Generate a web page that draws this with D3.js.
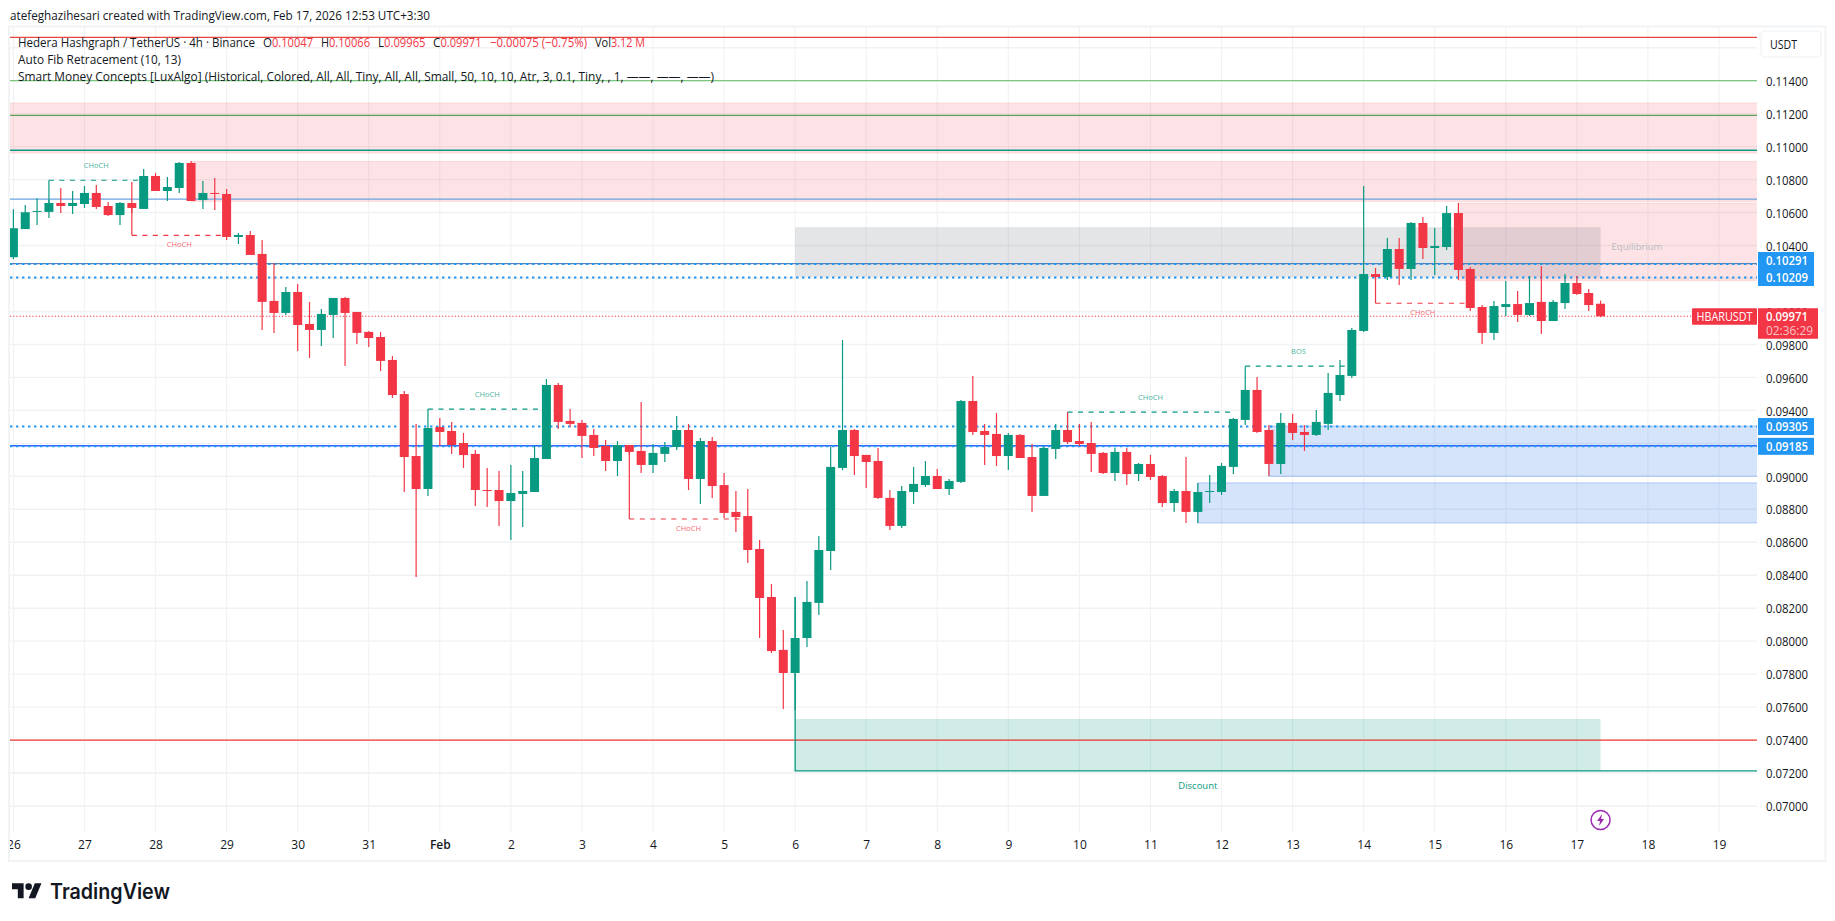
<!DOCTYPE html>
<html>
<head>
<meta charset="utf-8">
<script src="https://cdn.jsdelivr.net/npm/d3@7"></script>
<style>
    html, body { margin: 0; background: #fff; }
    svg { display: block; }
    text { font-family: "Open Sans", Roboto, sans-serif; fill: #131722; }
</style>
</head>
<body>
<svg id="canvas" width="1835" height="921"></svg>
<script>
// 4h candles, first one is Jan 26 00:00
const opens = [.10329,.10500,.10604,.10604,.10658,.10640,.10652,.10719,.10640,.10585,.10658,.10622,.10822,.10731,.10749,.10901,.10676,.10719,.10713,.10452,
.10464,.10349,.10064,.09991,.10118,.09924,.09888,.09979,.10082,.09997,.09876,.09845,.09706,.09499,.09123,.08923,.09299,.09275,.09202,.09136,
.08917,.08917,.08850,.08893,.08905,.09105,.09554,.09336,.09324,.09251,.09184,.09093,.09190,.09154,.09069,.09136,.09178,.09281,.08984,.09214,
.08947,.08784,.08759,.08559,.08268,.07947,.07807,.08019,.08232,.08547,.09051,.09281,.09130,.09093,.08869,.08699,.08905,.08947,.09002,.08923,
.08966,.09457,.09275,.09257,.09123,.09251,.09117,.08881,.09166,.09281,.09214,.09202,.09142,.09020,.09148,.09014,.09075,.09002,.08838,.08911,
.08784,.08905,.08905,.09057,.09342,.09524,.09281,.09075,.09324,.09269,.09251,.09318,.09493,.09609,.09882,.10227,.10209,.10379,.10258,.10537,
.10385,.10391,.10597,.10258,.10027,.09870,.10027,.10045,.09979,.10058,.09942,.10051,.10173,.10112,.10047];
const highs = [.10620,.10646,.10687,.10676,.10749,.10731,.10761,.10767,.10664,.10664,.10786,.10864,.10840,.10816,.10907,.10913,.10792,.10810,.10743,.10476,
.10488,.10434,.10294,.10149,.10167,.10058,.10015,.10082,.10088,.09997,.09882,.09876,.09730,.09518,.09318,.09293,.09354,.09330,.09263,.09160,
.09051,.09032,.09069,.09032,.09184,.09590,.09566,.09408,.09342,.09287,.09220,.09214,.09190,.09451,.09196,.09208,.09366,.09318,.09233,.09239,
.09020,.08911,.08923,.08614,.08347,.08068,.08268,.08365,.08638,.09178,.09827,.09287,.09130,.09172,.08917,.08941,.09057,.09093,.09045,.08984,
.09463,.09609,.09318,.09384,.09263,.09257,.09196,.09184,.09318,.09390,.09318,.09330,.09148,.09172,.09172,.09081,.09130,.09008,.08923,.09117,
.08960,.09008,.09081,.09354,.09524,.09603,.09311,.09384,.09378,.09311,.09402,.09627,.09706,.09900,.10761,.10264,.10446,.10446,.10543,.10573,
.10507,.10640,.10658,.10270,.10039,.10064,.10185,.10124,.10215,.10276,.10070,.10227,.10215,.10136,.10066];
const lows = [.10317,.10500,.10525,.10567,.10597,.10591,.10628,.10622,.10579,.10525,.10597,.10622,.10731,.10670,.10719,.10670,.10622,.10616,.10434,.10409,
.10343,.09888,.09870,.09979,.09760,.09718,.09791,.09839,.09669,.09803,.09785,.09639,.09475,.08905,.08389,.08881,.09184,.09136,.09051,.08820,
.08814,.08699,.08614,.08693,.08905,.09105,.09287,.09299,.09111,.09123,.09032,.09002,.09130,.09020,.09020,.09087,.09160,.08917,.08832,.08869,
.08747,.08662,.08474,.08019,.07928,.07589,.07583,.07965,.08159,.08432,.09038,.09008,.08929,.08863,.08675,.08687,.08832,.08935,.08923,.08887,
.08960,.09251,.09069,.09063,.09038,.09111,.08784,.08881,.09105,.09196,.09184,.09026,.09014,.08972,.08947,.08972,.08978,.08814,.08784,.08717,
.08717,.08838,.08887,.09014,.09311,.09263,.09002,.09014,.09220,.09154,.09245,.09281,.09457,.09597,.09876,.10191,.10191,.10161,.10191,.10318,
.10221,.10373,.10191,.10003,.09803,.09827,.09973,.09936,.09973,.09864,.09942,.10015,.10100,.10003,.09965];
const closes = [.10505,.10602,.10610,.10658,.10640,.10658,.10719,.10634,.10585,.10658,.10628,.10822,.10731,.10755,.10901,.10670,.10719,.10713,.10452,.10464,
.10343,.10058,.09991,.10118,.09918,.09888,.09985,.10082,.09991,.09870,.09839,.09700,.09493,.09117,.08923,.09293,.09269,.09190,.09129,.08917,
.08911,.08850,.08899,.08911,.09111,.09554,.09330,.09318,.09245,.09172,.09093,.09190,.09148,.09069,.09142,.09178,.09281,.08984,.09214,.08941,
.08778,.08753,.08553,.08262,.07940,.07807,.08019,.08238,.08553,.09057,.09281,.09123,.09087,.08869,.08699,.08911,.08954,.09002,.08923,.08972,
.09457,.09269,.09251,.09123,.09251,.09111,.08881,.09172,.09281,.09208,.09196,.09136,.09020,.09148,.09014,.09075,.08996,.08838,.08911,.08784,
.08905,.08911,.09063,.09348,.09524,.09269,.09075,.09324,.09263,.09251,.09330,.09506,.09615,.09888,.10227,.10209,.10379,.10258,.10537,.10385,
.10397,.10597,.10252,.10021,.09870,.10033,.10045,.09979,.10051,.09942,.10058,.10173,.10106,.10039,.09971];

const dayLabels = ["26","27","28","29","30","31","Feb","2","3","4","5","6","7","8","9","10","11","12","13","14","15","16","17","18","19"];
const priceTicks = [.116,.114,.112,.110,.108,.106,.104,.102,.100,.098,.096,.094,.092,.090,.088,.086,.084,.082,.080,.078,.076,.074,.072,.070];

// [start bar, end bar, top, bottom]
const redZones = [[-3,150,.11265,.10961],[15,150,.10911,.10668],[122,150,.10658,.10187]];
const blueZones = [[106,150,.09305,.09000],[100,150,.08960,.08717]];
const grayZones = [[66,134,.10512,.10209]];
const discountZones = [[66,134,.07528,.07213]];

const solidLevels = [.11663,.11400,.11190,.10978,.10681,.10290,.09185,.07400];
const blueDotLevels = [.10291,.10209,.09305,.09185];
const lastPrice = .09971;
const discountLow = .07213;

// [start bar, end bar, level, leg end price, label]
const greenBreaks = [[3,11,.10796,.10658,"CHoCH"],[35,45,.09408,.09293,"CHoCH"],[89,103,.09390,.09281,"CHoCH"],[104,113,.09668,.09524,"BOS"]];
const redBreaks = [[10,18,.10462,.10628,"CHoCH"],[52,62,.08741,.09148,"CHoCH"],[115,123,.10050,.10209,"CHoCH"]];

const GREEN = "#089981";
const RED = "#F23645";
const BLUE = "#2196F3";
const solidColors = ["#e5473f","#7cc77f","#5f9f56","#089981","#6aa5e0","#5b7ea6","#2962FF","#f0392f"];
const solidWidths = [1.2,1.2,1.2,1.6,1.2,1.2,1.6,1.2];

const pane = {left: 10, right: 1757, top: 27, bottom: 833};

let canvas = d3.select("#canvas");

let xScale = d3.scaleLinear().domain([0, 144]).range([13.4, 1719]);
let yScale = d3.scaleLinear().domain([.114, .070]).range([80.7, 806]);

let defs = canvas.append("defs");
defs.append("clipPath").attr("id", "pane")
    .append("rect")
    .attr("x", pane.left).attr("y", pane.top)
    .attr("width", pane.right - pane.left).attr("height", pane.bottom - pane.top);
defs.append("clipPath").attr("id", "timeaxis")
    .append("rect").attr("x", pane.left).attr("y", -10).attr("width", 1760).attr("height", 30);

// outer frame
canvas.append("rect")
    .attr("x", 9).attr("y", 26.5).attr("width", 1816.5).attr("height", 834.5)
    .attr("fill", "none").attr("stroke", "#f2f3f5").attr("stroke-width", 2);

let drawGrid = () => {
    let priceAxis = d3.axisRight(yScale)
        .tickValues(priceTicks.filter((p) => p < .115))
        .tickFormat(d3.format(".5f"))
        .tickSize(0).tickPadding(0);
    let priceGroup = canvas.append("g")
        .attr("transform", "translate(1766,0)")
        .attr("class", "price-axis")
        .call(priceAxis);
    priceGroup.select(".domain").remove();
    priceGroup.selectAll("text")
        .attr("font-size", 13).attr("dy", "0.36em").attr("x", 0)
        .attr("textLength", 42).attr("lengthAdjust", "spacingAndGlyphs");

    let grid = canvas.append("g").attr("clip-path", "url(#pane)");
    grid.selectAll(".hgrid")
        .data(priceTicks)
        .enter()
        .append("line")
        .attr("class", "hgrid")
        .attr("x1", pane.left).attr("x2", pane.right)
        .attr("y1", (p) => yScale(p)).attr("y2", (p) => yScale(p))
        .attr("stroke", "#f0f1f3").attr("stroke-width", 1.4);
    grid.selectAll(".vgrid")
        .data(dayLabels)
        .enter()
        .append("line")
        .attr("class", "vgrid")
        .attr("x1", (d, i) => xScale(i * 6)).attr("x2", (d, i) => xScale(i * 6))
        .attr("y1", pane.top).attr("y2", pane.bottom)
        .attr("stroke", "#f1f2f4").attr("stroke-width", 1.1);

    let timeAxis = d3.axisBottom(xScale)
        .tickValues(dayLabels.map((d, i) => i * 6))
        .tickFormat((v) => dayLabels[v / 6])
        .tickSize(0).tickPadding(0);
    let timeGroup = canvas.append("g")
        .attr("transform", "translate(0,840)")
        .attr("clip-path", "url(#timeaxis)")
        .call(timeAxis);
    timeGroup.select(".domain").remove();
    timeGroup.selectAll("text")
        .attr("font-size", 12).attr("fill", "#131722")
        .attr("font-weight", (v) => dayLabels[v / 6] === "Feb" ? 600 : 400);
}

let drawZones = (data, fill, stroke) => {
    canvas.append("g").attr("clip-path", "url(#pane)")
        .selectAll("rect")
        .data(data)
        .enter()
        .append("rect")
        .attr("x", (z) => xScale(z[0]))
        .attr("width", (z) => xScale(z[1]) - xScale(z[0]))
        .attr("y", (z) => yScale(z[2]))
        .attr("height", (z) => yScale(z[3]) - yScale(z[2]))
        .attr("fill", fill)
        .attr("stroke", stroke);
}

let drawLevels = () => {
    let g = canvas.append("g").attr("clip-path", "url(#pane)");
    g.selectAll(".solid")
        .data(solidLevels)
        .enter()
        .append("line")
        .attr("class", "solid")
        .attr("x1", pane.left).attr("x2", pane.right)
        .attr("y1", (p) => yScale(p)).attr("y2", (p) => yScale(p))
        .attr("stroke", (p, i) => solidColors[i])
        .attr("stroke-width", (p, i) => solidWidths[i]);
    g.selectAll(".dotted")
        .data(blueDotLevels)
        .enter()
        .append("line")
        .attr("class", "dotted")
        .attr("x1", pane.left).attr("x2", pane.right)
        .attr("y1", (p) => yScale(p) + 0.5).attr("y2", (p) => yScale(p) + 0.5)
        .attr("stroke", BLUE).attr("stroke-width", 2)
        .attr("stroke-dasharray", "2.4 3.6");
    g.append("line")
        .attr("x1", pane.left).attr("x2", pane.right)
        .attr("y1", yScale(lastPrice)).attr("y2", yScale(lastPrice))
        .attr("stroke", RED).attr("stroke-width", 1)
        .attr("stroke-dasharray", "1.2 2");
    // discount low, starts at the swing low
    g.append("path")
        .attr("d", "M" + xScale(66) + "," + yScale(highs[66]) + "V" + yScale(discountLow) + "H" + pane.right)
        .attr("fill", "none")
        .attr("stroke", GREEN).attr("stroke-width", 1.3);
}

let drawBreaks = (data, color, labelOffset) => {
    let g = canvas.append("g").attr("clip-path", "url(#pane)");
    g.selectAll("path")
        .data(data)
        .enter()
        .append("path")
        .attr("d", (b) => "M" + xScale(b[0]) + "," + yScale(b[2]) + "H" + xScale(b[1]))
        .attr("fill", "none")
        .attr("stroke", color).attr("stroke-width", 1.2)
        .attr("stroke-dasharray", "5 5.5");
    g.selectAll(".leg")
        .data(data)
        .enter()
        .append("line")
        .attr("class", "leg")
        .attr("x1", (b) => xScale(b[0])).attr("x2", (b) => xScale(b[0]))
        .attr("y1", (b) => yScale(b[2])).attr("y2", (b) => yScale(b[3]))
        .attr("stroke", color).attr("stroke-width", 1.2);
    g.selectAll("text")
        .data(data)
        .enter()
        .append("text")
        .attr("x", (b) => (xScale(b[0]) + xScale(b[1])) / 2)
        .attr("y", (b) => yScale(b[2]) + labelOffset)
        .attr("text-anchor", "middle")
        .attr("font-size", 7.5)
        .style("fill", color)
        .attr("opacity", 0.75)
        .text((b) => b[4]);
}

let drawCandles = () => {
    let bars = canvas.append("g").attr("clip-path", "url(#pane)")
        .selectAll("g")
        .data(opens)
        .enter()
        .append("g")
        .attr("fill", (o, i) => closes[i] >= o ? GREEN : RED)
        .attr("stroke", (o, i) => closes[i] >= o ? GREEN : RED);
    bars.append("line")
        .attr("x1", (o, i) => xScale(i)).attr("x2", (o, i) => xScale(i))
        .attr("y1", (o, i) => yScale(highs[i])).attr("y2", (o, i) => yScale(lows[i]))
        .attr("stroke-width", 1.2);
    bars.append("rect")
        .attr("x", (o, i) => xScale(i) - 4.5)
        .attr("width", 9)
        .attr("y", (o, i) => yScale(Math.max(o, closes[i])))
        .attr("height", (o, i) => Math.max(1, Math.abs(yScale(o) - yScale(closes[i]))))
        .attr("stroke", "none");
}

let drawLabels = () => {
    // equilibrium + discount captions
    canvas.append("text").attr("x", 1637).attr("y", yScale(.1044) + 11)
        .attr("text-anchor", "middle").attr("font-size", 9.5).style("fill", "#b8bbc4")
        .text("Equilibrium");
    canvas.append("text").attr("x", xScale(100)).attr("y", yScale(discountLow) + 18)
        .attr("text-anchor", "middle").attr("font-size", 9.5).style("fill", GREEN)
        .text("Discount");

    // price tags on the axis, the two top ones would overlap
    let tagY = blueDotLevels.map((p) => yScale(p));
    tagY[0] = Math.min(tagY[0], tagY[1] - 17);
    let tags = canvas.append("g").selectAll("g")
        .data(blueDotLevels)
        .enter()
        .append("g")
        .attr("transform", (p, i) => "translate(1758," + (tagY[i] + 0.5) + ")");
    tags.append("rect")
        .attr("y", -8.5).attr("width", 56).attr("height", 17)
        .attr("fill", BLUE);
    tags.append("text")
        .attr("x", 8).attr("dy", "0.36em")
        .attr("font-size", 13).attr("font-weight", 600)
        .attr("textLength", 42).attr("lengthAdjust", "spacingAndGlyphs")
        .style("fill", "#fff")
        .text((p) => p.toFixed(5));

    let yLast = yScale(lastPrice);
    canvas.append("rect").attr("x", 1692).attr("y", yLast - 8).attr("width", 65).attr("height", 16.5)
        .attr("rx", 1).attr("fill", RED);
    canvas.append("text").attr("x", 1724.5).attr("y", yLast).attr("dy", "0.36em")
        .attr("text-anchor", "middle").attr("font-size", 13)
        .attr("textLength", 56).attr("lengthAdjust", "spacingAndGlyphs")
        .style("fill", "#fff").text("HBARUSDT");
    canvas.append("rect").attr("x", 1758).attr("y", yLast - 8).attr("width", 60).attr("height", 30.5)
        .attr("fill", RED);
    canvas.append("text").attr("x", 1766).attr("y", yLast).attr("dy", "0.36em")
        .attr("font-size", 13).attr("font-weight", 600)
        .attr("textLength", 42).attr("lengthAdjust", "spacingAndGlyphs")
        .style("fill", "#fff").text(lastPrice.toFixed(5));
    canvas.append("text").attr("x", 1766).attr("y", yLast + 14.5).attr("dy", "0.36em")
        .attr("font-size", 13)
        .attr("textLength", 47).attr("lengthAdjust", "spacingAndGlyphs")
        .style("fill", "#fbc2c7").text("02:36:29");

    // USDT button
    canvas.append("rect").attr("x", 1761).attr("y", 31).attr("width", 60).attr("height", 26)
        .attr("rx", 4).attr("fill", "#fff").attr("stroke", "#f0f1f3").attr("stroke-width", 1.2);
    canvas.append("text").attr("x", 1770).attr("y", 44.5).attr("dy", "0.36em")
        .attr("font-size", 13).attr("textLength", 27).attr("lengthAdjust", "spacingAndGlyphs")
        .text("USDT");

    // bolt marker
    let bolt = canvas.append("g").attr("transform", "translate(" + xScale(134) + ",820)");
    bolt.append("circle").attr("r", 9.5).attr("fill", "#fff").attr("stroke", "#9c27b0").attr("stroke-width", 1.5);
    bolt.append("path").attr("d", "M1.5,-6 L-3.5,1 H-0.5 L-1.5,6 L3.5,-1 H0.5 Z").attr("fill", "#9c27b0");
}

let putText = (x, y, str, width, color) => {
    let t = canvas.append("text").attr("x", x).attr("y", y).attr("dy", "0.36em")
        .attr("font-size", 13)
        .attr("textLength", width).attr("lengthAdjust", "spacingAndGlyphs")
        .text(str);
    if (color) t.style("fill", color);
}

let drawHeader = () => {
    putText(10, 15, "atefeghazihesari created with TradingView.com, Feb 17, 2026 12:53 UTC+3:30", 420);
    putText(18, 42, "Hedera Hashgraph / TetherUS · 4h · Binance", 237);
    putText(263, 42, "O", 9);
    putText(272, 42, "0.10047", 41, RED);
    putText(321, 42, "H", 8);
    putText(329, 42, "0.10066", 41, RED);
    putText(378, 42, "L", 6);
    putText(384, 42, "0.09965", 41.5, RED);
    putText(433, 42, "C", 7.5);
    putText(440.5, 42, "0.09971", 41, RED);
    putText(490, 42, "−0.00075 (−0.75%)", 97, RED);
    putText(595, 42, "Vol", 16);
    putText(611, 42, "3.12 M", 34, RED);
    putText(18, 59, "Auto Fib Retracement (10, 13)", 163);
    putText(18, 76, "Smart Money Concepts [LuxAlgo] (Historical, Colored, All, All, Tiny, All, All, Small, 50, 10, 10, Atr, 3, 0.1, Tiny, , 1, ——, ——, ——)", 696);
}

let drawLogo = () => {
    let logo = canvas.append("g").attr("transform", "translate(12,880) scale(0.83)");
    logo.append("path").attr("d", "M14 22H7V11H0V4h14v18zM28 22h-8l7.5-18h8L28 22z").attr("fill", "#131722");
    logo.append("circle").attr("cx", 20).attr("cy", 8).attr("r", 4).attr("fill", "#131722");
    canvas.append("text").attr("x", 50).attr("y", 891).attr("dy", "0.36em")
        .style("font-family", "Inter, sans-serif")
        .attr("font-size", 21).attr("font-weight", 600)
        .attr("textLength", 120).attr("lengthAdjust", "spacingAndGlyphs")
        .text("TradingView");
}

drawGrid();
drawZones(redZones, "rgba(242,54,69,0.14)", "rgba(242,54,69,0.12)");
drawZones(blueZones, "rgba(33,110,235,0.19)", "rgba(33,110,235,0.3)");
drawZones(grayZones, "rgba(120,123,134,0.2)", "none");
drawZones(discountZones, "rgba(8,153,129,0.19)", "none");
drawLevels();
drawBreaks(greenBreaks, GREEN, -12.5);
drawBreaks(redBreaks, RED, 12);
drawCandles();
drawLabels();
drawHeader();
drawLogo();
</script>
</body>
</html>
